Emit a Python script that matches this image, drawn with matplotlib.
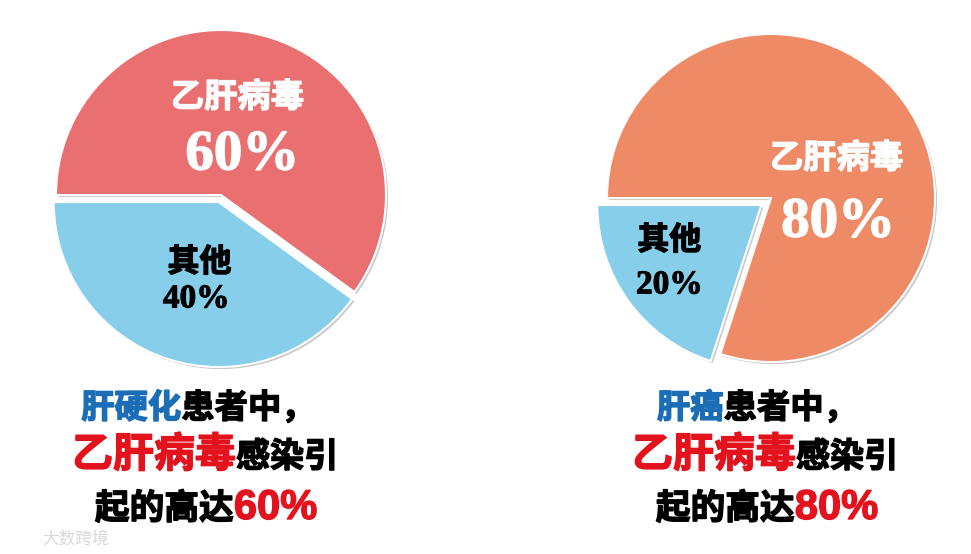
import matplotlib
matplotlib.use('Agg')
import matplotlib.pyplot as plt
import matplotlib.patheffects as pe

plt.rcParams['font.family'] = ['Noto Sans CJK SC', 'DejaVu Sans']

# data
left_labels = ['乙肝病毒', '其他']
left_values = [60, 40]
right_labels = ['乙肝病毒', '其他']
right_values = [80, 20]

left_colors = ['#e96f70', '#87ceea']
right_colors = ['#ee8a66', '#87ceea']

W, H = 971, 554
fig = plt.figure(figsize=(W / 100.0, H / 100.0), dpi=100)
fig.patch.set_facecolor('white')

shadow = [pe.SimplePatchShadow(offset=(1.5, -1.5), shadow_rgbFace='#888888', alpha=0.45), pe.Normal()]


def thick(color, lw=0.9):
    # fake a heavier weight than the installed bold
    return [pe.withStroke(linewidth=lw, foreground=color)]


def pie_axes(cx, cy, r):
    # axes in pixel units, pie radius 1 -> r pixels
    half = 1.1 * r
    ax = fig.add_axes([(cx - half) / W, (H - cy - half) / H, 2 * half / W, 2 * half / H])
    ax.set_xlim(-1.1, 1.1)
    ax.set_ylim(-1.1, 1.1)
    ax.set_aspect('equal')
    ax.axis('off')
    return ax


# left pie
ax1 = pie_axes(221, 195, 165)
wedges, _ = ax1.pie(left_values, colors=left_colors, startangle=-36, explode=[0, 0.045],
                    wedgeprops=dict(edgecolor='white', linewidth=1.5))
for w in wedges:
    w.set_path_effects(shadow)
ax1.set_xlim(-1.1, 1.1)
ax1.set_ylim(-1.1, 1.1)
ax1.text(0.10, 0.59, left_labels[0], color='white', fontsize=24, weight='bold', ha='center', va='center',
         path_effects=thick('white'))
ax1.text(0.13, 0.24, '%d%%' % left_values[0], color='white', fontsize=41, weight='bold',
         family='Liberation Serif', ha='center', va='center', path_effects=thick('white', 1))
ax1.text(-0.13, -0.41, left_labels[1], color='black', fontsize=23, weight='bold', ha='center', va='center',
         path_effects=thick('black'))
ax1.text(-0.15, -0.63, '%d%%' % left_values[1], color='black', fontsize=24, weight='bold',
         family='Liberation Serif', ha='center', va='center', path_effects=thick('black', 0.7))

# right pie
ax2 = pie_axes(771, 198, 164)
wedges, _ = ax2.pie(right_values, colors=right_colors, startangle=-108, explode=[0, 0.073],
                    wedgeprops=dict(edgecolor='white', linewidth=1.5))
for w in wedges:
    w.set_path_effects(shadow)
ax2.set_xlim(-1.1, 1.1)
ax2.set_ylim(-1.1, 1.1)
ax2.text(0.40, 0.24, right_labels[0], color='white', fontsize=24, weight='bold', ha='center', va='center',
         path_effects=thick('white'))
ax2.text(0.41, -0.15, '%d%%' % right_values[0], color='white', fontsize=41, weight='bold',
         family='Liberation Serif', ha='center', va='center', path_effects=thick('white', 1))
ax2.text(-0.62, -0.26, right_labels[1], color='black', fontsize=23, weight='bold', ha='center', va='center',
         path_effects=thick('black'))
ax2.text(-0.62, -0.53, '%d%%' % right_values[1], color='black', fontsize=24, weight='bold',
         family='Liberation Serif', ha='center', va='center', path_effects=thick('black', 0.7))

# captions under the pies, coloured pieces placed side by side
BLUE = '#1b6db5'
RED = '#e3121d'
CJK = ['Noto Sans CJK SC', 'DejaVu Sans']
NUM = ['Liberation Sans', 'DejaVu Sans']
renderer = fig.canvas.get_renderer()


def put_line(segs, cx, y):
    texts = []
    for s, color, size, fam in segs:
        t = fig.text(0, 1 - y / float(H), s, color=color, fontsize=size, family=fam,
                     weight='bold', va='baseline', ha='left', path_effects=thick(color, 1.0))
        texts.append(t)
    widths = [t.get_window_extent(renderer).width for t in texts]
    x = cx - sum(widths) / 2.0
    for t, w in zip(texts, widths):
        t.set_x(x / W)
        x += w


put_line([('肝硬化', BLUE, 24, CJK), ('患者中，', 'black', 24, CJK)], 198, 418)
put_line([('乙肝病毒', RED, 29.5, CJK), ('感染引', 'black', 24.5, CJK)], 205, 467)
put_line([('起的高达', 'black', 25, CJK), ('%d%%' % left_values[0], RED, 30, NUM)], 206, 519)

put_line([('肝癌', BLUE, 24, CJK), ('患者中，', 'black', 24, CJK)], 757, 418)
put_line([('乙肝病毒', RED, 29.5, CJK), ('感染引', 'black', 24.5, CJK)], 765, 467)
put_line([('起的高达', 'black', 25, CJK), ('%d%%' % right_values[0], RED, 30, NUM)], 767, 519)

# faint watermark
fig.text(42 / float(W), 1 - 544 / float(H), '大数跨境', color='#d9d9d9', fontsize=12, va='baseline')

plt.savefig('out.png', dpi=100)
